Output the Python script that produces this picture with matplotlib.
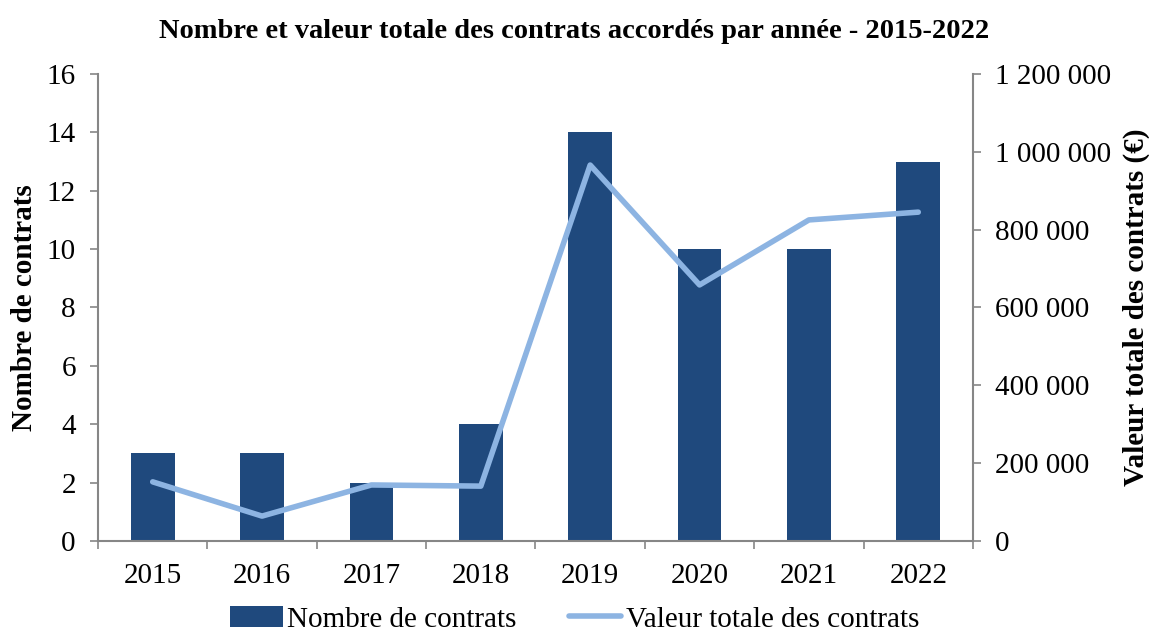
import numpy as np
import matplotlib
matplotlib.use("Agg")
import matplotlib.pyplot as plt
from matplotlib.ticker import FuncFormatter

plt.rcParams['font.family'] = ['Liberation Serif', 'DejaVu Serif']

years = ["2015", "2016", "2017", "2018", "2019", "2020", "2021", "2022"]
nb_contrats = [3, 3, 2, 4, 14, 10, 10, 13]
valeur_totale = [152000, 64000, 144000, 141000, 966000, 658000, 825000, 845000]

bar_color = "#1F497D"
line_color = "#8DB4E2"
axis_color = "#868686"
fs = 21

fig = plt.figure(figsize=(11.49, 6.41), dpi=100)
ax = fig.add_axes([0.0853, 0.156, 0.7615, 0.7286])
ax2 = ax.twinx()

x = np.arange(len(years))
ax.bar(x, nb_contrats, width=0.4, color=bar_color, label="Nombre de contrats", zorder=2)
ax2.plot(x, valeur_totale, color=line_color, lw=4, solid_capstyle="round",
         label="Valeur totale des contrats", zorder=3)

ax.set_xlim(-0.5, len(years) - 0.5)
ax.set_ylim(0, 16)
ax.set_yticks(range(0, 17, 2))
ax2.set_ylim(0, 1200000)
ax2.set_yticks(range(0, 1200001, 200000))
ax2.yaxis.set_major_formatter(FuncFormatter(lambda v, p: f"{int(v):,}".replace(",", " ")))

ax.set_xticks(x)
ax.set_xticklabels(years)
ax.set_xticks(np.arange(-0.5, len(years)), minor=True)
ax.tick_params(axis="x", which="major", length=0, pad=16, labelsize=fs)
ax.tick_params(axis="x", which="minor", length=6, color=axis_color, width=1.2)
ax.tick_params(axis="y", length=6, color=axis_color, width=1.2, labelsize=fs, pad=10)
ax2.tick_params(axis="y", length=6, color=axis_color, width=1.2, labelsize=fs, pad=10)

for a in (ax, ax2):
    for s in a.spines.values():
        s.set_visible(False)
ax.spines["left"].set_visible(True)
ax.spines["bottom"].set_visible(True)
ax2.spines["right"].set_visible(True)
for s in (ax.spines["left"], ax.spines["bottom"], ax2.spines["right"]):
    s.set_color(axis_color)
    s.set_linewidth(1.5)

ax.set_ylabel("Nombre de contrats", fontsize=fs, fontweight="bold", labelpad=6)
ax2.set_ylabel("Valeur totale des contrats (€)", fontsize=fs, fontweight="bold", labelpad=8)

fig.suptitle("Nombre et valeur totale des contrats accordés par année - 2015-2022",
             fontsize=20.5, fontweight="bold", x=0.5, y=0.97)

h1, l1 = ax.get_legend_handles_labels()
h2, l2 = ax2.get_legend_handles_labels()
fig.legend(h1 + h2, l1 + l2, loc="lower center", bbox_to_anchor=(0.5, -0.028), ncol=2,
           frameon=False, fontsize=fs, handlelength=1.8, handleheight=0.75,
           handletextpad=0.15, columnspacing=1.8)

fig.savefig("out.png", dpi=100)
